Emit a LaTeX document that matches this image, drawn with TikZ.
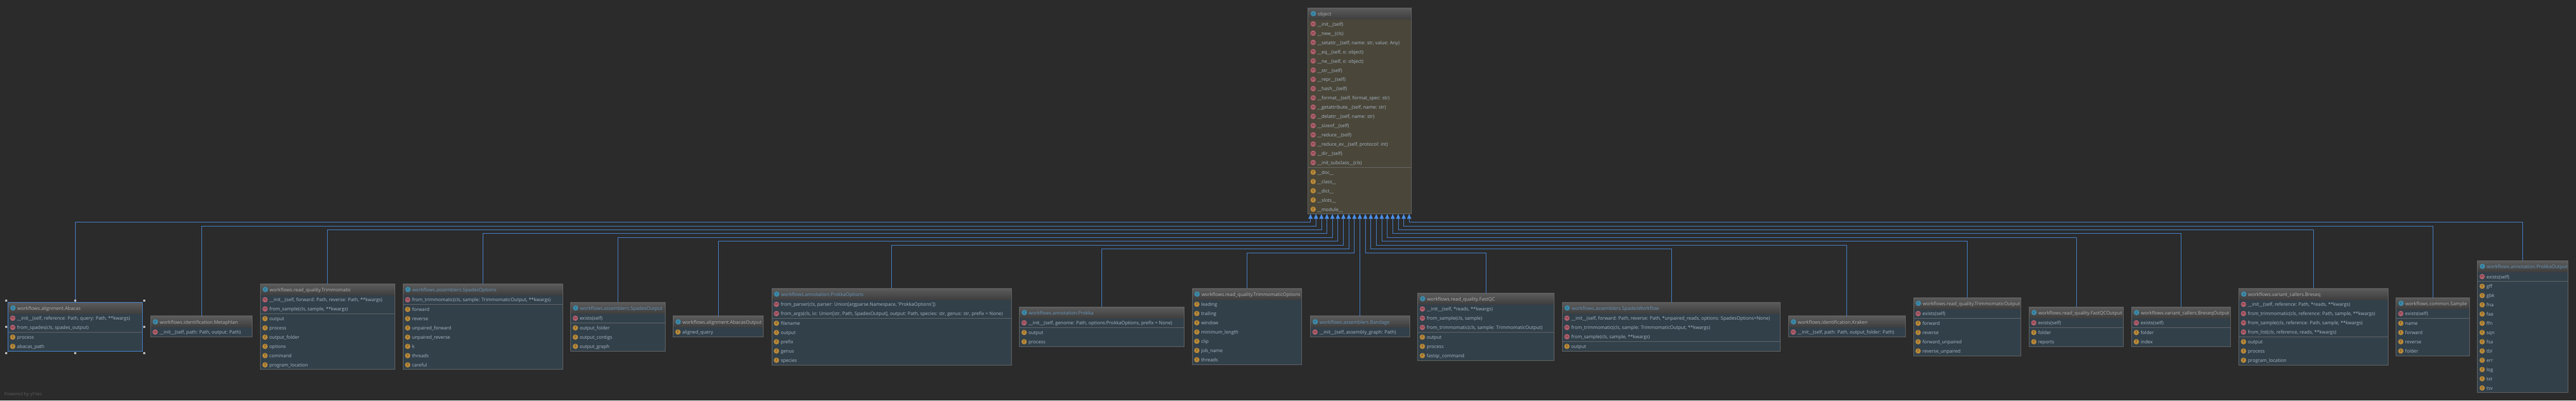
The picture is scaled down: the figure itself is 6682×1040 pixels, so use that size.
\documentclass[tikz,border=0pt]{standalone}
\usepackage{fontspec}
\usetikzlibrary{arrows.meta,calc}
\newfontfamily\uifont{Open Sans}
\definecolor{canvas}{HTML}{2B2B2B}
\definecolor{bodyblue}{HTML}{32404A}
\definecolor{bodyolive}{HTML}{4A473A}
\definecolor{edgegray}{HTML}{6B6B6B}
\definecolor{linkblue}{HTML}{4A90E8}
\definecolor{rowtext}{HTML}{A9B7C6}
\definecolor{titlegray}{HTML}{B4B4B4}
\definecolor{titleblue}{HTML}{6897BB}
\definecolor{iconc}{HTML}{3E8BAA}
\definecolor{iconm}{HTML}{B4636F}
\definecolor{iconf}{HTML}{B8893A}
\definecolor{letterc}{HTML}{17485C}
\definecolor{letterm}{HTML}{5E2530}
\definecolor{letterf}{HTML}{5C4114}
\tikzset{
  umlbody/.style={inner sep=0pt,outer sep=0pt,anchor=north west,fill=\bodycol},
  umlhead/.style={inner sep=0pt,outer sep=0pt,anchor=north west,top color=headtop,bottom color=headbot},
  umlrow/.style={inner sep=0pt,outer sep=0pt,anchor=base west,text=rowtext,font=\uifont\fontsize{9.16}{11}\selectfont},
  umltitle/.style={inner sep=0pt,outer sep=0pt,anchor=base west,font=\uifont\fontsize{9.27}{11}\selectfont},
  umlicon/.style={circle,inner sep=0pt,outer sep=0pt,minimum size=10.5pt},
  umlletter/.style={inner sep=0pt,outer sep=0pt,anchor=base,font=\uifont\fontsize{7.5}{9}\selectfont},
  umlsep/.style={draw=edgegray,line width=1pt},
  umlframe/.style={draw=\framecol,line width=1pt},
  inherit/.style={draw=linkblue,line width=0.75pt,-{Triangle[width=8.25pt,length=9.3pt,fill=linkblue]}},
  handle/.style={fill=handlegray,inner sep=0pt,outer sep=0pt,minimum size=3.7pt},
  yfiles/.style={inner sep=0pt,anchor=west,text=yfilesgray,font=\uifont\fontsize{8.9}{10}\selectfont}
}
\definecolor{headtop}{HTML}{5C5C5C}
\definecolor{headbot}{HTML}{3E3E3E}
\definecolor{handlegray}{HTML}{BDBDBD}
\definecolor{yfilesgray}{HTML}{5A5A5A}
\def\bodycol{bodyblue}
\def\framecol{edgegray}
\def\iconoff{12}
\def\textoff{23.3}
\newcount\umln
% name, x1, y1, x2, y2, title colour, title, methods, fields
\newcommand{\umlbox}[9]{%
  \pgfmathsetmacro\umlw{(#4-#2)*0.75}%
  \pgfmathsetmacro\umlh{(#5-#3)*0.75}%
  \pgfmathsetmacro\umlhy{#3+29.4}%
  \node[umlbody,minimum width=\umlw pt,minimum height=\umlh pt] (#1) at (#2,#3) {};
  \node[umlhead,minimum width=\umlw pt,minimum height=22.05pt] (#1-head) at (#2,#3) {};
  \pgfmathsetmacro\umlix{#2+\iconoff+0.7}%
  \pgfmathsetmacro\umltx{#2+\textoff+0.7}%
  \pgfmathsetmacro\umlic{#3+15}%
  \pgfmathsetmacro\umlib{#3+18.4}%
  \pgfmathsetmacro\umltb{#3+20.3}%
  \node[umlicon,fill=iconc] (#1-ci) at (\umlix,\umlic) {};
  \node[umlletter,text=letterc] (#1-cl) at (\umlix,\umlib) {c};
  \node[umltitle,text=#6] (#1-title) at (\umltx,\umltb) {#7};
  \global\umln=0
  \def\umlchk{#8}%
  \ifx\umlchk\empty\else
  \foreach \rowt [count=\rowi] in {#8} {
    \pgfmathsetmacro\rowc{\umlhy+12.2+24*(\rowi-1)}%
    \pgfmathsetmacro\rowb{\rowc+3.5}%
    \pgfmathsetmacro\rowg{\rowc+5}%
    \pgfmathsetmacro\rowx{#2+\iconoff}%
    \pgfmathsetmacro\rowy{#2+\textoff}%
    \node[umlicon,fill=iconm] (#1-mi\rowi) at (\rowx,\rowc) {};
    \node[umlletter,text=letterm] (#1-ml\rowi) at (\rowx,\rowb) {m};
    \node[umlrow] (#1-m\rowi) at (\rowy,\rowg) {\rowt};
    \global\umln=\rowi
  }
  \fi
  \def\umlchk{#9}%
  \ifx\umlchk\empty\else
  \pgfmathsetmacro\umlfy{\umlhy+24*\the\umln}%
  \ifnum\umln>0
    \pgfmathsetmacro\umlsy{\umlfy+0.6}%
    \draw[umlsep] (#2,\umlsy) -- (#4,\umlsy);
    \pgfmathsetmacro\umlfz{\umlfy+1.3}%
  \else
    \pgfmathsetmacro\umlfz{\umlfy}%
  \fi
  \foreach \rowt [count=\rowi] in {#9} {
    \pgfmathsetmacro\rowc{\umlfz+12+24*(\rowi-1)}%
    \pgfmathsetmacro\rowb{\rowc+3.5}%
    \pgfmathsetmacro\rowg{\rowc+5}%
    \pgfmathsetmacro\rowx{#2+\iconoff}%
    \pgfmathsetmacro\rowy{#2+\textoff}%
    \node[umlicon,fill=iconf] (#1-fi\rowi) at (\rowx,\rowc) {};
    \node[umlletter,text=letterf] (#1-fl\rowi) at (\rowx,\rowb) {f};
    \node[umlrow] (#1-f\rowi) at (\rowy,\rowg) {\rowt};
  }
  \fi
  \draw[umlframe] (#1.north west) rectangle (#1.south east);
}
\catcode`\_=12
\begin{document}
\begin{tikzpicture}[x=0.75pt,y=-0.75pt]
\fill[canvas] (0,0) rectangle (6682,1040);
\useasboundingbox (0,0) rectangle (6682,1040);

% connectors first
\foreach \l/\v in {1/576.5,2/586.5,3/596.5,4/606.5,5/616.5,6/626.5,7/636.5,8/646.5,9/656.5}
  \coordinate (lev\l) at (0,\v);
\foreach \k in {1,...,19}
  \coordinate (port\k) at ({3399.3+14.22*(\k-1)},555.6);

% object
\def\bodycol{bodyolive}
\def\iconoff{13.7}
\def\textoff{24.7}
\umlbox{object}{3392.5}{20.5}{3661.5}{555.5}{titlegray}{object}{
 {__init__(self)},{__new__(cls)},{__setattr__(self, name: str, value: Any)},{__eq__(self, o: object)},{__ne__(self, o: object)},{__str__(self)},{__repr__(self)},{__hash__(self)},{__format__(self, format_spec: str)},{__getattribute__(self, name: str)},{__delattr__(self, name: str)},{__sizeof__(self)},{__reduce__(self)},{__reduce_ex__(self, protocol: int)},{__dir__(self)},{__init_subclass__(cls)}}{
 {__doc__},{__class__},{__dict__},{__slots__},{__module__}}
\def\bodycol{bodyblue}
\def\iconoff{12}
\def\textoff{23.3}

\def\framecol{linkblue}
\umlbox{abacas}{21}{784.5}{369}{911.5}{titlegray}{workflows.alignment.Abacas}{
 {__init__(self, reference: Path, query: Path, **kwargs)},{from_spades(cls, spades_output)}}{
 {process},{abacas_path}}
\def\framecol{edgegray}
\umlbox{metaphlan}{390.5}{820.5}{654.5}{874.5}{titlegray}{workflows.identification.Metaphlan}{
 {__init__(self, path: Path, output: Path)}}{}
\umlbox{trimmomatic}{675.5}{736.5}{1024}{959.5}{titlegray}{workflows.read_quality.Trimmomatic}{
 {__init__(self, forward: Path, reverse: Path, **kwargs)},{from_sample(cls, sample, **kwargs)}}{
 {output},{process},{output_folder},{options},{command},{program_location}}
\umlbox{spadesoptions}{1045.5}{736.5}{1459.5}{959.5}{titleblue}{workflows.assemblers.SpadesOptions}{
 {from_trimmomatic(cls, sample: TrimmomaticOutput, **kwargs)}}{
 {forward},{reverse},{unpaired_forward},{unpaired_reverse},{k},{threads},{careful}}
\umlbox{spadesoutput}{1480.5}{784.5}{1725.5}{911.5}{titleblue}{workflows.assemblers.SpadesOutput}{
 {exists(self)}}{
 {output_folder},{output_contigs},{output_graph}}
\umlbox{abacasoutput}{1746.5}{820.5}{1980}{874.5}{titlegray}{workflows.alignment.AbacasOutput}{}{
 {aligned_query}}
\umlbox{prokkaoptions}{2002}{748.5}{2623.5}{947.5}{titleblue}{workflows.annotation.ProkkaOptions}{
 {from_parser(cls, parser: Union[argparse.Namespace, 'ProkkaOptions'])},{from_args(cls, io: Union[str, Path, SpadesOutput], output: Path, species: str, genus: str, prefix = None)}}{
 {filename},{output},{prefix},{genus},{species}}
\umlbox{prokka}{2644.5}{796.5}{3071.5}{899.5}{titleblue}{workflows.annotation.Prokka}{
 {__init__(self, genome: Path, options:ProkkaOptions, prefix = None)}}{
 {output},{process}}
\umlbox{trimoptions}{3092.5}{748.5}{3377}{946.5}{titlegray}{workflows.read_quality.TrimmomaticOptions}{}{
 {leading},{trailing},{window},{minimum_length},{clip},{job_name},{threads}}
\umlbox{bandage}{3399}{820.5}{3656.5}{874.5}{titleblue}{workflows.assemblers.Bandage}{
 {__init__(self, assembly_graph: Path)}}{}
\umlbox{fastqc}{3677.5}{760.5}{4031}{935.5}{titlegray}{workflows.read_quality.FastQC}{
 {__init__(self, *reads, **kwargs)},{from_sample(cls, sample)},{from_trimmomatic(cls, sample: TrimmomaticOutput)}}{
 {output},{process},{fastqc_command}}
\umlbox{spadesworkflow}{4052.5}{784.5}{4618.5}{911.5}{titleblue}{workflows.assemblers.SpadesWorkflow}{
 {__init__(self, forward: Path, reverse: Path, *unpaired_reads, options: SpadesOptions=None)},{from_trimmomatic(cls, sample: TrimmomaticOutput, **kwargs)},{from_sample(cls, sample, **kwargs)}}{
 {output}}
\umlbox{kraken}{4639.5}{820.5}{4942}{874.5}{titlegray}{workflows.identification.Kraken}{
 {__init__(self, path: Path, output_folder: Path)}}{}
\umlbox{trimoutput}{4963.5}{772.5}{5242.5}{923.5}{titlegray}{workflows.read_quality.TrimmomaticOutput}{
 {exists(self)}}{
 {forward},{reverse},{forward_unpaired},{reverse_unpaired}}
\umlbox{fastqcoutput}{5263.5}{796.5}{5508.5}{899.5}{titlegray}{workflows.read_quality.FastQCOutput}{
 {exists(self)}}{
 {folder},{reports}}
\umlbox{breseqoutput}{5529.5}{796.5}{5786.5}{899.5}{titlegray}{workflows.variant_callers.BreseqOutput}{
 {exists(self)}}{
 {folder},{index}}
\umlbox{breseq}{5807.5}{748.5}{6194.5}{947.5}{titlegray}{workflows.variant_callers.Breseq}{
 {__init__(self, reference: Path, *reads, **kwargs)},{from_trimmomatic(cls, reference: Path, sample, **kwargs)},{from_sample(cls, reference: Path, sample, **kwargs)},{from_list(cls, reference, reads, **kwargs)}}{
 {output},{process},{program_location}}
\umlbox{sample}{6215.5}{772.5}{6405.5}{923.5}{titlegray}{workflows.common.Sample}{
 {exists(self)}}{
 {name},{forward},{reverse},{folder}}
\umlbox{prokkaoutput}{6426.5}{676.5}{6661.5}{1019.5}{titleblue}{workflows.annotation.ProkkaOutput}{
 {exists(self)}}{
 {gff},{gbk},{fna},{faa},{ffn},{sqn},{fsa},{tbl},{err},{log},{txt},{tsv}}

% inheritance links
\foreach \child/\k/\l in {abacas/1/1,metaphlan/2/2,trimmomatic/3/3,spadesoptions/4/4,spadesoutput/5/5,abacasoutput/6/6,prokkaoptions/7/7,prokka/8/8,trimoptions/9/9,
  fastqc/11/9,spadesworkflow/12/8,kraken/13/7,trimoutput/14/6,fastqcoutput/15/5,breseqoutput/16/4,breseq/17/3,sample/18/2,prokkaoutput/19/1}
  \draw[inherit] (\child.north) -- (\child.north |- lev\l) -- (port\k |- lev\l) -- (port\k);
\draw[inherit] (port10 |- bandage.north) -- (port10);

% selection handles
\foreach \h/\hx/\hy in {a/16/780.5,b/195/780.5,c/374/780.5,d/16/848.5,e/374/848.5,f/16/916.5,g/195/916.5,h/374/916.5}
  \node[handle] (handle\h) at (\hx,\hy) {};

\node[yfiles] (poweredby) at (10.5,1023.5) {Powered by yFiles};
\end{tikzpicture}
\end{document}
